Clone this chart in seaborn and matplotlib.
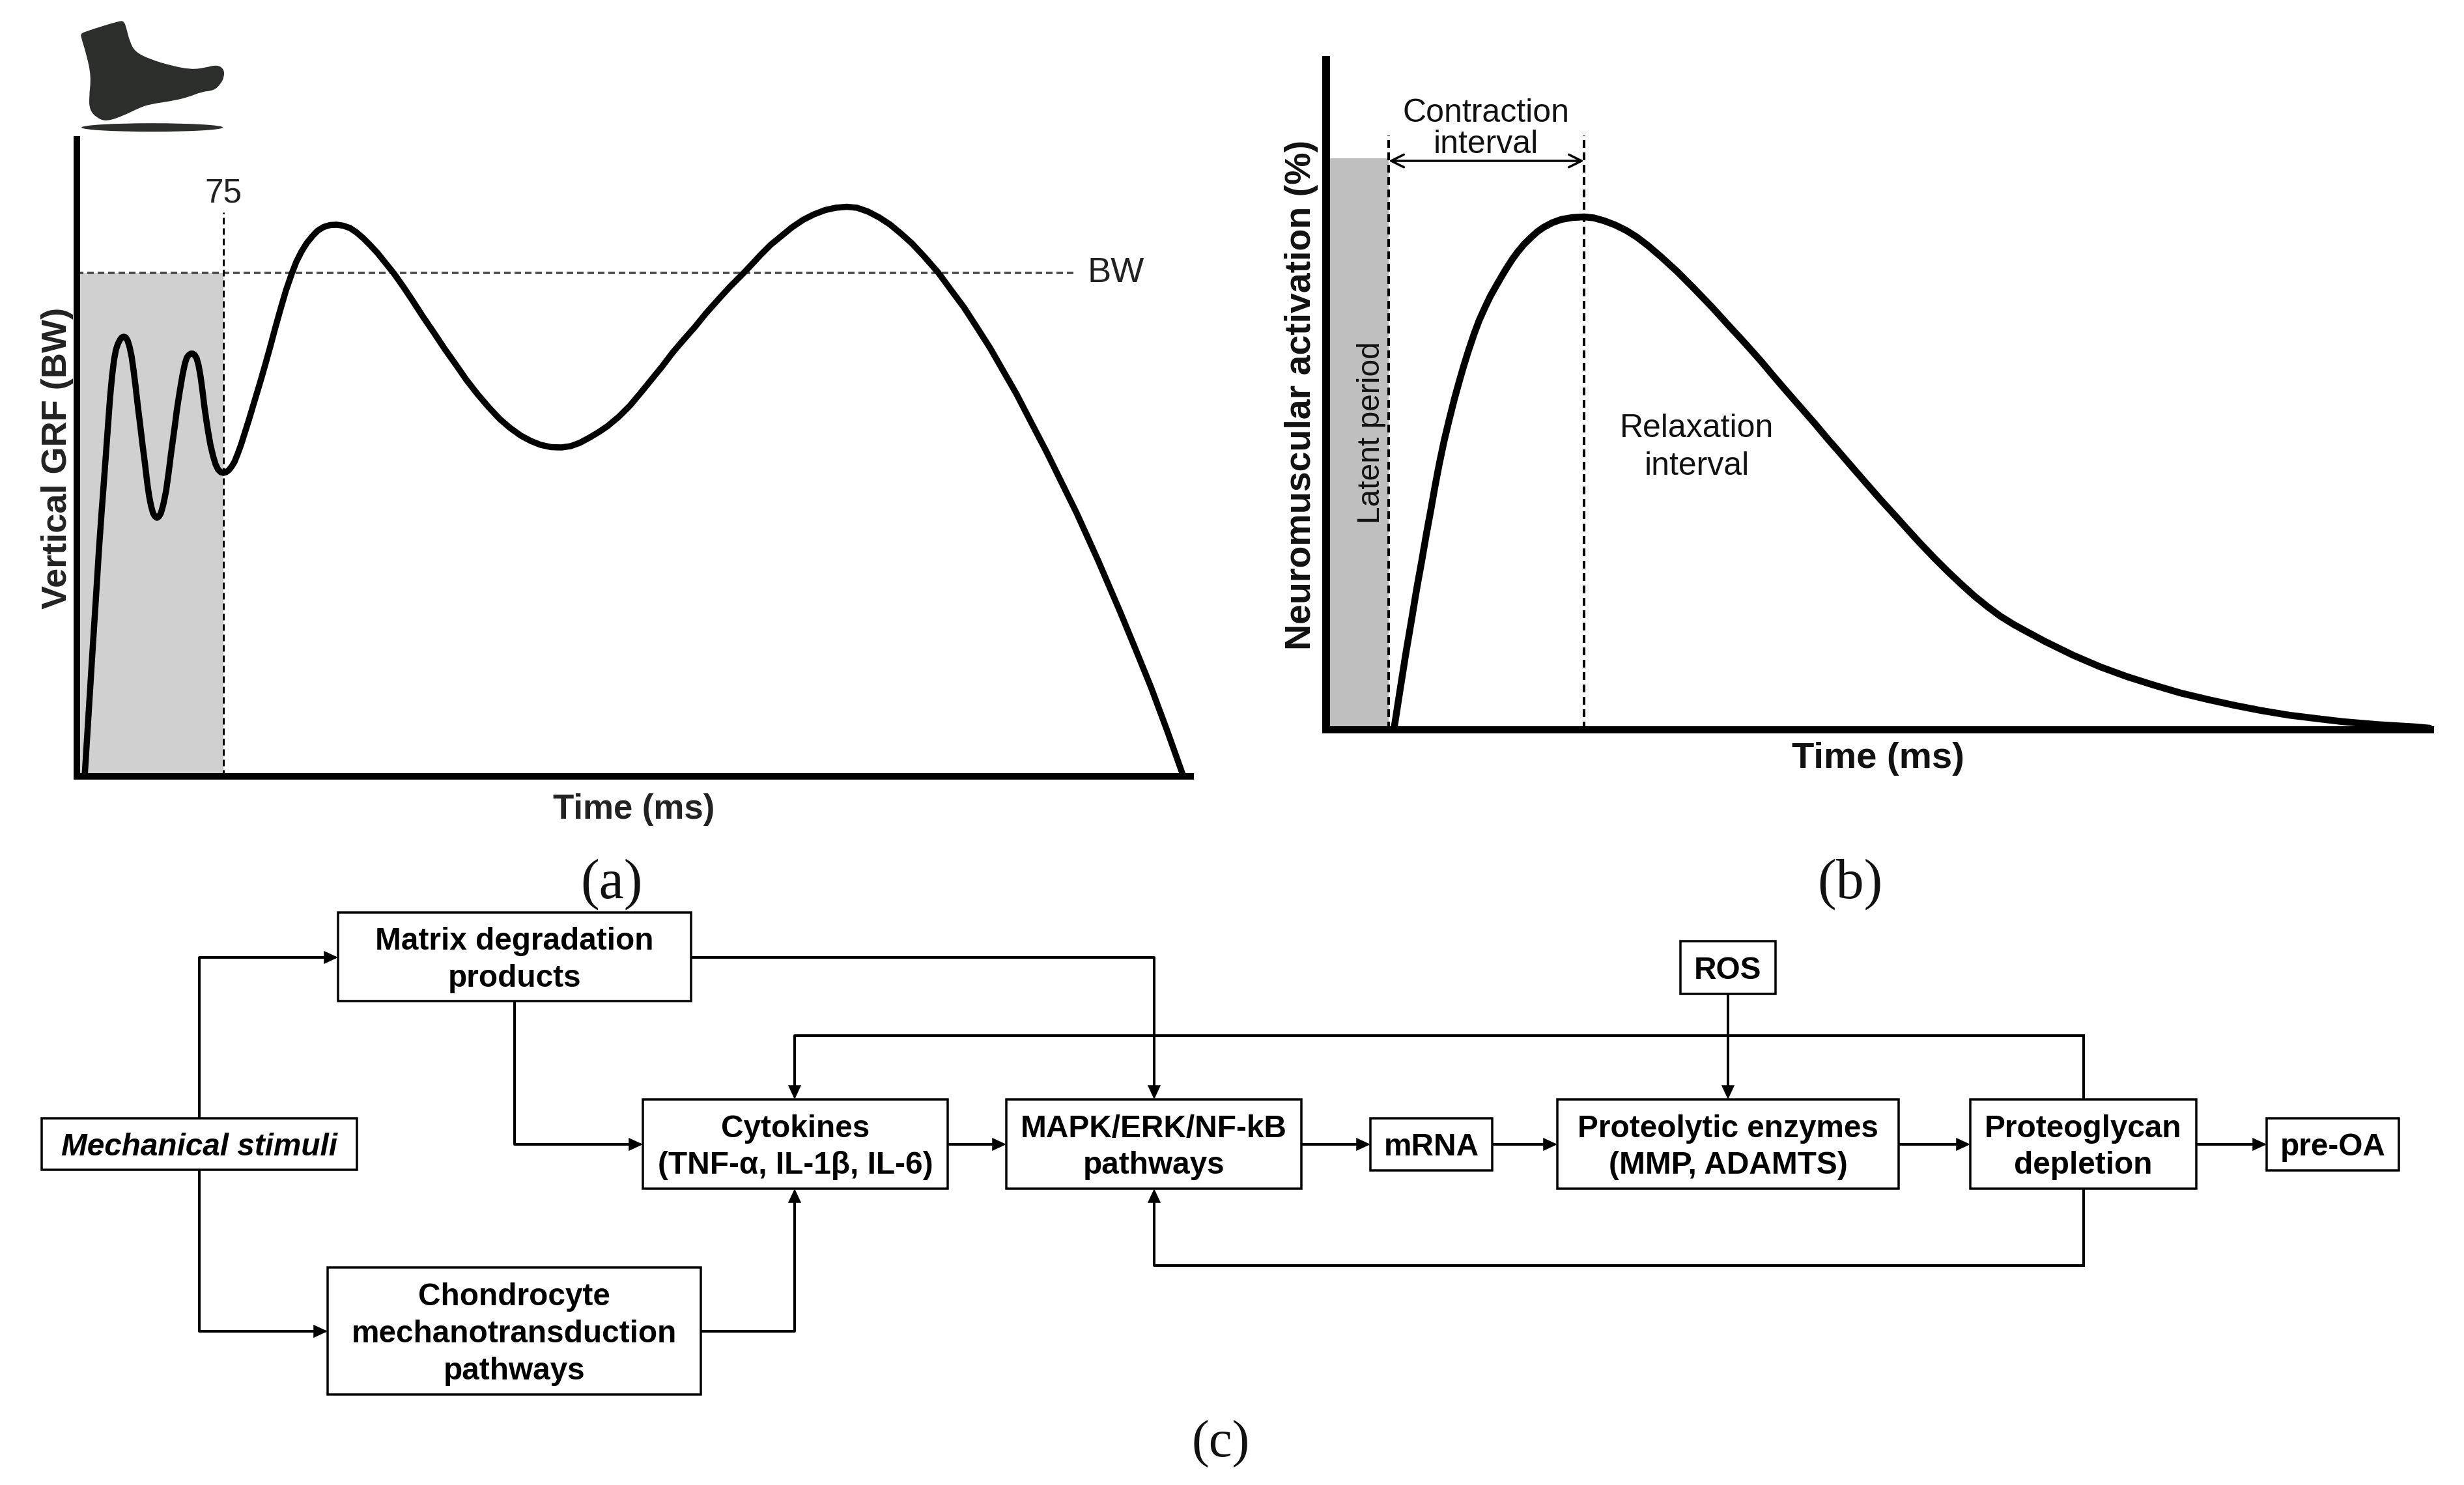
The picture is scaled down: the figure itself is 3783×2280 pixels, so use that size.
import numpy as np
import pandas as pd
import matplotlib
matplotlib.use('Agg')
import matplotlib.pyplot as plt
from matplotlib.path import Path
from matplotlib.patches import PathPatch, Ellipse, Rectangle
import seaborn as sns

# panel (a): ground reaction force (force in arbitrary units, body weight = 773)
grf_time = [4.0, 6.0, 8.0, 9.7, 11.3, 12.7, 14.0, 15.7, 17.0, 18.0, 19.0, 20.0, 21.0, 22.0, 23.0, 24.0, 25.0, 26.0,
            27.0, 28.0, 29.0, 30.0, 31.3, 32.3, 33.7, 34.7, 36.0, 37.0, 38.0, 39.0, 40.0, 41.0, 42.0, 43.0, 44.3,
            45.7, 47.0, 48.3, 50.0, 51.3, 52.7, 54.0, 55.3, 56.3, 57.3, 58.3, 59.3, 60.3, 61.3, 62.3, 63.3, 64.3,
            65.3, 66.3, 67.3, 68.3, 69.7, 71.0, 72.3, 73.7, 75.0, 76.3, 77.7, 79.3, 80.7, 82.3, 84.0, 86.0, 88.0,
            90.3, 92.3, 94.0, 96.3, 99.0, 101.3, 104.0, 107.0, 110.0, 112.3, 115.0, 117.7, 120.7, 123.3, 126.3,
            129.7, 133.0, 136.3, 139.7, 143.0, 146.3, 150.0, 154.0, 158.0, 162.3, 167.0, 171.7, 177.3, 183.0,
            188.3, 194.0, 199.3, 205.0, 210.7, 216.3, 221.7, 227.3, 232.3, 237.3, 242.7, 248.0, 252.7, 257.3,
            262.3, 267.3, 271.7, 277.3, 283.0, 288.3, 294.0, 299.7, 305.0, 310.7, 316.3, 321.7, 327.3, 334.0,
            341.3, 345.7, 349.7, 355.0, 360.7, 366.0, 371.7, 377.3, 383.0, 388.3, 394.0, 399.3, 405.0, 410.7,
            416.3, 421.7, 427.3, 434.0, 440.7, 447.3, 454.0, 460.7, 467.3, 474.0, 480.7, 488.3, 496.3, 504.0,
            511.7, 517.3, 523.0, 528.3, 534.0, 541.7, 549.7, 558.0, 566.3]
grf_force = [0, 96, 192, 271, 348, 407, 459, 529, 582, 614, 639, 655, 664, 670, 674, 675, 674, 669,
             659, 645, 624, 600, 566, 542, 507, 484, 451, 430, 415, 404, 399, 397, 399, 404, 418,
             439, 467, 498, 535, 565, 592, 615, 634, 643, 647, 649, 649, 647, 642, 631, 614, 592,
             567, 546, 527, 510, 492, 479, 471, 467, 466, 467, 470, 476, 483, 495, 509, 528, 547,
             570, 590, 607, 631, 660, 686, 715, 746, 772, 790, 806, 819, 830, 838, 843.5,
             846.5, 847, 845.5, 842, 835.5, 827, 816, 803, 788, 772, 752, 731, 705, 680,
             656, 632, 609, 587, 567, 549, 535, 523, 515, 509, 505.5, 505, 507, 512,
             520, 529, 538, 552, 569, 588, 609, 630, 651, 671, 690, 710, 729, 751,
             773, 787, 800, 816, 830, 843, 854.5, 863, 869.5, 873, 874.5, 873, 867, 858,
             847, 833.5, 818.5, 797, 774, 747, 720, 689, 658, 623, 588, 544, 498, 451,
             404, 367, 329, 292, 252, 196, 137, 70, 0]
grf_shaded_until = 75
body_weight = 773

# panel (b): neuromuscular activation (arbitrary units, peak = 787)
emg_time = [34.7, 37.7, 40.7, 43.7, 46.3, 49.0, 51.3, 53.7, 55.7, 58.0, 60.3, 63.0, 65.7, 68.0, 70.3, 73.0, 75.7,
            78.3, 81.3, 84.0, 87.0, 89.7, 92.3, 95.3, 98.0, 101.3, 104.7, 108.0, 111.3, 115.7, 120.3, 126.0, 132.0,
            137.0, 142.3, 148.0, 153.7, 159.0, 164.7, 171.3, 179.7, 188.0, 197.3, 207.0, 214.7, 222.7, 229.7,
            236.3, 243.3, 250.0, 257.0, 263.7, 270.3, 277.0, 283.7, 290.7, 297.3, 304.3, 311.3, 318.0, 324.7,
            331.7, 338.3, 345.0, 352.0, 358.7, 368.0, 382.3, 396.3, 410.0, 423.7, 437.3, 451.3, 465.0, 478.7,
            492.7, 506.3, 520.3, 538.0, 557.3, 564.7]
emg_level = [0, 58, 115, 168, 215, 260, 300, 339, 373, 409, 442, 476, 508, 533, 557, 583, 607,
             628, 648, 665, 681, 695, 708, 722, 733, 745, 755, 764, 771, 778, 783, 786, 787,
             785.5, 781, 774.5, 766, 756, 743, 726, 703, 678, 649, 617, 592, 565, 540,
             517, 493, 470, 445, 422, 399, 376, 353, 330, 308, 285, 263, 243, 224,
             205, 189, 174, 161, 150, 135, 114, 96, 81, 68, 56, 46, 37, 29,
             22, 17, 12, 7.5, 4, 2]
latent_end = 32
peak_time = 132

# panel (c): flowchart texts
node_names = ['matrix', 'mech', 'cyto', 'mapk', 'chondro', 'ros', 'mrna', 'prot', 'pg', 'preoa']
node_labels = ['Matrix degradation\nproducts', 'Mechanical stimuli', 'Cytokines\n(TNF-α, IL-1β, IL-6)',
               'MAPK/ERK/NF-kB\npathways', 'Chondrocyte\nmechanotransduction\npathways', 'ROS', 'mRNA',
               'Proteolytic enzymes\n(MMP, ADAMTS)', 'Proteoglycan\ndepletion', 'pre-OA']

sns.set_theme(style='white')
plt.rcParams['font.family'] = ['Liberation Sans', 'DejaVu Sans']
plt.rcParams['lines.scale_dashes'] = False

W, H = 3783, 2280
PX = 0.72  # one pixel in points at dpi 100
fig = plt.figure(figsize=(W / 100, H / 100), dpi=100, facecolor='white')


def make_axes(left, right, top, bottom):
    ax = fig.add_axes([left / W, 1 - bottom / H, (right - left) / W, (bottom - top) / H])
    ax.patch.set_alpha(0)
    sns.despine(ax=ax)
    ax.set_xticks([])
    ax.set_yticks([])
    for side in ['left', 'bottom']:
        ax.spines[side].set_color('black')
    return ax


# ---- panel a ----
ax_a = make_axes(118, 1828, 214, 1192)
ax_a.set_xlim(0, (1828 - 118) / 3)
ax_a.set_ylim(0, 1192 - 214)
for side in ['left', 'bottom']:
    ax_a.spines[side].set_linewidth(10 * PX)
ax_a.fill_between([0, grf_shaded_until], 0, body_weight, color='#d0d0d0', lw=0, zorder=0)
ax_a.plot([0, 511], [body_weight, body_weight], color='#444444', lw=3.5 * PX, dashes=(10 * PX, 6 * PX), zorder=1)
ax_a.plot([grf_shaded_until, grf_shaded_until], [0, 866], color='black', lw=3 * PX, dashes=(10 * PX, 6 * PX), zorder=1)
df_grf = pd.DataFrame({'time': grf_time, 'force': grf_force})
sns.lineplot(data=df_grf, x='time', y='force', ax=ax_a, color='black', lw=9.5 * PX, estimator=None, sort=False,
             solid_joinstyle='round', clip_on=False, zorder=3)
ax_a.text(grf_shaded_until, 895, '75', ha='center', va='center', fontsize=37, color='#222222')
ax_a.text(531.7, body_weight, 'BW', ha='center', va='center', fontsize=39, color='#222222')
ax_a.set_xlabel('Time (ms)', fontsize=38, fontweight='bold', color='#222222', labelpad=19, visible=True)
ax_a.set_ylabel('Vertical GRF (BW)', fontsize=39, fontweight='bold', color='#222222', labelpad=3.5, visible=True)

# ---- panel b ----
ax_b = make_axes(2036, 3731, 92, 1120)
ax_b.set_xlim(0, (3731 - 2036) / 3)
ax_b.set_ylim(0, 1120 - 92)
ax_b.spines['left'].set_linewidth(12 * PX)
ax_b.spines['bottom'].set_linewidth(11 * PX)
ax_b.fill_between([0, latent_end], 0, 877, color='#bfbfbf', lw=0, zorder=0)
for xpos in [latent_end, peak_time]:
    ax_b.plot([xpos, xpos], [0, 913], color='black', lw=4 * PX, dashes=(12 * PX, 7 * PX), zorder=1)
df_emg = pd.DataFrame({'time': emg_time, 'level': emg_level})
sns.lineplot(data=df_emg, x='time', y='level', ax=ax_b, color='black', lw=10.5 * PX, estimator=None, sort=False,
             solid_joinstyle='round', clip_on=False, zorder=3)
ax_b.annotate('', xy=(latent_end, 873), xytext=(peak_time, 873),
              arrowprops=dict(arrowstyle='<->,head_length=1.4,head_width=0.7', mutation_scale=10,
                              lw=3.5 * PX, color='black', shrinkA=0, shrinkB=0))
ax_b.text(81.7, 922, 'Contraction\ninterval', ha='center', va='center', fontsize=36, color='#111111', linespacing=1.05)
ax_b.text(189.7, 433, 'Relaxation\ninterval', ha='center', va='center', fontsize=36, color='#111111', linespacing=1.35)
ax_b.text(23, 456, 'Latent period', ha='center', va='center', rotation=90, fontsize=34.5, color='#111111')
ax_b.set_xlabel('Time (ms)', fontsize=40.5, fontweight='bold', color='#111111', labelpad=13.5, visible=True)
ax_b.set_ylabel('Neuromuscular activation (%)', fontsize=40, fontweight='bold', color='#111111', labelpad=8.5, visible=True)

# ---- overlay in picture pixels: foot icon, captions, flowchart ----
ax = fig.add_axes([0, 0, 1, 1], zorder=5)
ax.patch.set_alpha(0)
ax.set_xlim(0, W)
ax.set_ylim(H, 0)
ax.axis('off')

foot_outline = [(135, 158), (145, 150), (310, 98), (330, 100), (340, 130), (355, 190), (380, 240), (450, 275),
                (550, 305), (640, 322), (700, 315), (760, 300), (790, 320), (790, 355), (775, 385), (745, 415),
                (690, 420), (620, 448), (540, 465), (450, 478), (400, 495), (330, 530), (250, 558), (205, 540),
                (175, 505), (172, 450), (182, 350), (160, 250), (135, 170)]
foot_px = np.array([(80 + fx / 3, fy / 3) for fx, fy in foot_outline])
# quadratic segments through the outline midpoints so that the icon is not jagged
mids = (foot_px + np.roll(foot_px, -1, axis=0)) / 2
foot_verts = [mids[-1]]
foot_codes = [Path.MOVETO]
for i in range(len(foot_px)):
    foot_verts += [foot_px[i], mids[i]]
    foot_codes += [Path.CURVE3, Path.CURVE3]
ax.add_patch(PathPatch(Path(foot_verts, foot_codes), fc='#2b2e2a', ec='#2b2e2a', lw=1))
ax.add_patch(Ellipse((233.7, 195.7), 217, 13, fc='#2b2e2a', ec='none'))

for cap, cx, cy, size in [('(a)', 939, 1358, 62), ('(b)', 2840, 1358, 62), ('(c)', 1874, 2217, 58)]:
    ax.text(cx, cy, cap, ha='center', va='center', fontsize=size, family='Liberation Serif', color='#111111')

# left, right, top, bottom of each box
boxes = {'matrix': (519, 1061, 1401, 1537), 'mech': (64, 548, 1717, 1796), 'cyto': (987, 1455, 1688, 1825),
         'mapk': (1545, 1998, 1688, 1825), 'chondro': (503, 1076, 1946, 2141), 'ros': (2580, 2726, 1445, 1526),
         'mrna': (2104, 2291, 1717, 1797), 'prot': (2391, 2915, 1688, 1825), 'pg': (3025, 3372, 1688, 1825),
         'preoa': (3480, 3683, 1717, 1797)}
links = [[(306, 1717), (306, 1470), (519, 1470)],
         [(306, 1796), (306, 2044), (503, 2044)],
         [(790, 1537), (790, 1757), (987, 1757)],
         [(1061, 1470), (1772, 1470), (1772, 1688)],
         [(1076, 2044), (1220, 2044), (1220, 1825)],
         [(3199, 1688), (3199, 1590), (1220, 1590), (1220, 1688)],
         [(3199, 1825), (3199, 1943), (1772, 1943), (1772, 1825)],
         [(2653, 1526), (2653, 1688)],
         [(1455, 1757), (1545, 1757)],
         [(1998, 1757), (2104, 1757)],
         [(2291, 1757), (2391, 1757)],
         [(2915, 1757), (3025, 1757)],
         [(3372, 1757), (3480, 1757)]]
for pts in links:
    xs, ys = zip(*pts[:-1])
    if len(pts) > 2:
        ax.plot(xs, ys, color='black', lw=4 * PX, solid_joinstyle='miter', solid_capstyle='butt', zorder=1)
    ax.annotate('', xy=pts[-1], xytext=pts[-2],
                arrowprops=dict(arrowstyle='-|>,head_length=1.08,head_width=0.5', mutation_scale=10, lw=4 * PX,
                                color='black', shrinkA=0, shrinkB=0, joinstyle='miter'), zorder=1)

for name, label in zip(node_names, node_labels):
    l, r, t, b = boxes[name]
    ax.add_patch(Rectangle((l, t), r - l, b - t, fc='white', ec='black', lw=3.5 * PX, zorder=2))
    ax.text((l + r) / 2, (t + b) / 2 + 5, label, ha='center', va='center', fontsize=34.4, fontweight='bold',
            style='italic' if name == 'mech' else 'normal', color='black', linespacing=1.33, zorder=3)

plt.savefig('out.png', dpi=100, facecolor='white')
